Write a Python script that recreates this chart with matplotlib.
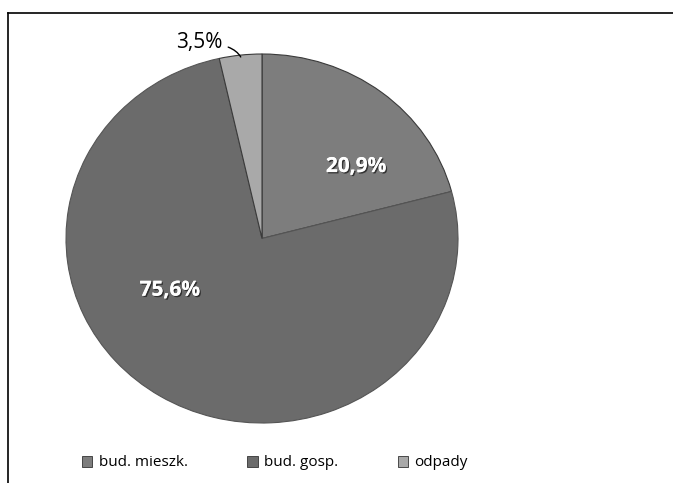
import matplotlib
matplotlib.use("Agg")
import matplotlib.pyplot as plt
import matplotlib.patheffects as pe
import numpy as np

plt.rcParams["font.family"] = ["Open Sans", "DejaVu Sans"]

# ── data ─────────────────────────────────────────────
categories = ["bud. mieszk.", "bud. gosp.", "odpady"]
shares = [20.9, 75.6, 3.5]
labels = ["20,9%", "75,6%", "3,5%"]
colors = ["#7d7d7d", "#6b6b6b", "#a9a9a9"]

W, H = 673, 483
fig = plt.figure(figsize=(W / 100, H / 100), dpi=100)

# outer frame (scanned: only top and left edge visible)
fig.add_artist(plt.Line2D([8 / W, 1.0], [1 - 13 / H, 1 - 13 / H],
                          color="black", lw=1.2))
fig.add_artist(plt.Line2D([8 / W, 8 / W], [0.0, 1 - 13 / H],
                          color="black", lw=1.2))

# pie area (slightly squashed like the scan)
cx, cy, rx, ry = 262, 238.5, 196, 184.5
ax = fig.add_axes([(cx - rx) / W, (H - cy - ry) / H, 2 * rx / W, 2 * ry / H])
wedges, _ = ax.pie(shares, colors=colors, startangle=90, counterclock=False,
                   wedgeprops=dict(edgecolor="#3a3a3a", linewidth=0.8))
ax.set_aspect("auto")
ax.set_xlim(-1, 1)
ax.set_ylim(-1, 1)
wedges[1].set_edgecolor("#555555")

# in-slice labels (white with a faint dark shadow, as in the scan)
shadow = [pe.withSimplePatchShadow(offset=(1, -1), shadow_rgbFace="#222222",
                                   alpha=0.8), pe.Normal()]
ax.text(0.48, 0.39, labels[0], ha="center", va="center", fontsize=15,
        fontweight="bold", color="white", path_effects=shadow)
ax.text(-0.47, -0.28, labels[1], ha="center", va="center", fontsize=15,
        fontweight="bold", color="white", path_effects=shadow)

# outside label with leader line for the small slice
mid = np.deg2rad(90 + shares[2] * 3.6 / 2)
tip = (np.cos(mid) * 0.99, np.sin(mid) * 0.99)
ax.annotate(labels[2], xy=tip, xytext=(-0.2, 1.06), ha="right", va="center",
            fontsize=15, color="black", annotation_clip=False,
            arrowprops=dict(arrowstyle="-", color="black", lw=1,
                            connectionstyle="angle3,angleA=0,angleB=-60",
                            shrinkA=2, shrinkB=0))

# legend along the bottom
handles = [plt.Rectangle((0, 0), 1, 1, facecolor=c, edgecolor="#333333", lw=0.6)
           for c in colors]
fig.legend(handles, categories, loc="center left",
           bbox_to_anchor=(68 / W, 1 - 463 / H), ncol=3, frameon=False,
           fontsize=11, handlelength=0.7, handleheight=0.7, handletextpad=0.4,
           columnspacing=3.9)

fig.savefig("out.png", dpi=100)
